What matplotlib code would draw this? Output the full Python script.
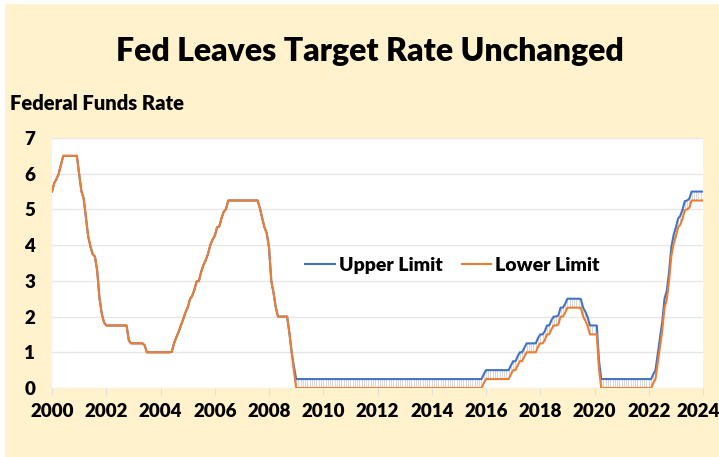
import pandas as pd
import matplotlib
matplotlib.use('Agg')
import matplotlib.pyplot as plt
import matplotlib.transforms as mtransforms
from matplotlib.patches import Rectangle

# monthly average of the fed funds target (Jan 2000 .. Jan 2024)
months = pd.date_range('2000-01-01', '2024-01-01', freq='MS')

lower = [
    5.50, 5.74, 5.85, 6.00, 6.26, 6.50, 6.50, 6.50, 6.50, 6.50, 6.50, 6.50,  # 2000
    5.98, 5.50, 5.32, 4.80, 4.26, 3.97, 3.75, 3.68, 3.28, 2.52, 2.08, 1.84,  # 2001
    1.75, 1.75, 1.75, 1.75, 1.75, 1.75, 1.75, 1.75, 1.75, 1.75, 1.33, 1.25,  # 2002
    1.25, 1.25, 1.25, 1.25, 1.25, 1.20, 1.00, 1.00, 1.00, 1.00, 1.00, 1.00,  # 2003
    1.00, 1.00, 1.00, 1.00, 1.00, 1.01, 1.25, 1.42, 1.57, 1.75, 1.92, 2.11,  # 2004
    2.25, 2.49, 2.57, 2.75, 2.98, 3.00, 3.25, 3.44, 3.58, 3.75, 4.00, 4.15,  # 2005
    4.26, 4.50, 4.52, 4.75, 4.93, 5.01, 5.25, 5.25, 5.25, 5.25, 5.25, 5.25,  # 2006
    5.25, 5.25, 5.25, 5.25, 5.25, 5.25, 5.25, 5.25, 5.03, 4.76, 4.50, 4.34,  # 2007
    3.94, 3.00, 2.68, 2.26, 2.00, 2.00, 2.00, 2.00, 2.00, 1.55, 1.00, 0.48,  # 2008
    0.00, 0.00, 0.00, 0.00, 0.00, 0.00, 0.00, 0.00, 0.00, 0.00, 0.00, 0.00,  # 2009
    0.00, 0.00, 0.00, 0.00, 0.00, 0.00, 0.00, 0.00, 0.00, 0.00, 0.00, 0.00,  # 2010
    0.00, 0.00, 0.00, 0.00, 0.00, 0.00, 0.00, 0.00, 0.00, 0.00, 0.00, 0.00,  # 2011
    0.00, 0.00, 0.00, 0.00, 0.00, 0.00, 0.00, 0.00, 0.00, 0.00, 0.00, 0.00,  # 2012
    0.00, 0.00, 0.00, 0.00, 0.00, 0.00, 0.00, 0.00, 0.00, 0.00, 0.00, 0.00,  # 2013
    0.00, 0.00, 0.00, 0.00, 0.00, 0.00, 0.00, 0.00, 0.00, 0.00, 0.00, 0.00,  # 2014
    0.00, 0.00, 0.00, 0.00, 0.00, 0.00, 0.00, 0.00, 0.00, 0.00, 0.00, 0.13,  # 2015
    0.25, 0.25, 0.25, 0.25, 0.25, 0.25, 0.25, 0.25, 0.25, 0.25, 0.25, 0.38,  # 2016
    0.50, 0.50, 0.63, 0.75, 0.75, 0.88, 1.00, 1.00, 1.00, 1.00, 1.00, 1.15,  # 2017
    1.25, 1.25, 1.33, 1.50, 1.50, 1.65, 1.75, 1.75, 1.78, 2.00, 2.00, 2.10,  # 2018
    2.25, 2.25, 2.25, 2.25, 2.25, 2.25, 2.24, 2.00, 1.88, 1.73, 1.50, 1.50,  # 2019
    1.50, 1.50, 0.53, 0.00, 0.00, 0.00, 0.00, 0.00, 0.00, 0.00, 0.00, 0.00,  # 2020
    0.00, 0.00, 0.00, 0.00, 0.00, 0.00, 0.00, 0.00, 0.00, 0.00, 0.00, 0.00,  # 2021
    0.00, 0.00, 0.13, 0.25, 0.69, 1.13, 1.60, 2.25, 2.48, 3.00, 3.70, 4.03,  # 2022
    4.25, 4.50, 4.57, 4.75, 4.98, 5.00, 5.05, 5.25, 5.25, 5.25, 5.25, 5.25,  # 2023
    5.25,                                                                    # 2024
]

upper = [
    5.50, 5.74, 5.85, 6.00, 6.26, 6.50, 6.50, 6.50, 6.50, 6.50, 6.50, 6.50,  # 2000
    5.98, 5.50, 5.32, 4.80, 4.26, 3.97, 3.75, 3.68, 3.28, 2.52, 2.08, 1.84,  # 2001
    1.75, 1.75, 1.75, 1.75, 1.75, 1.75, 1.75, 1.75, 1.75, 1.75, 1.33, 1.25,  # 2002
    1.25, 1.25, 1.25, 1.25, 1.25, 1.20, 1.00, 1.00, 1.00, 1.00, 1.00, 1.00,  # 2003
    1.00, 1.00, 1.00, 1.00, 1.00, 1.01, 1.25, 1.42, 1.57, 1.75, 1.92, 2.11,  # 2004
    2.25, 2.49, 2.57, 2.75, 2.98, 3.00, 3.25, 3.44, 3.58, 3.75, 4.00, 4.15,  # 2005
    4.26, 4.50, 4.52, 4.75, 4.93, 5.01, 5.25, 5.25, 5.25, 5.25, 5.25, 5.25,  # 2006
    5.25, 5.25, 5.25, 5.25, 5.25, 5.25, 5.25, 5.25, 5.03, 4.76, 4.50, 4.34,  # 2007
    3.94, 3.00, 2.68, 2.26, 2.00, 2.00, 2.00, 2.00, 2.00, 1.55, 1.00, 0.61,  # 2008
    0.25, 0.25, 0.25, 0.25, 0.25, 0.25, 0.25, 0.25, 0.25, 0.25, 0.25, 0.25,  # 2009
    0.25, 0.25, 0.25, 0.25, 0.25, 0.25, 0.25, 0.25, 0.25, 0.25, 0.25, 0.25,  # 2010
    0.25, 0.25, 0.25, 0.25, 0.25, 0.25, 0.25, 0.25, 0.25, 0.25, 0.25, 0.25,  # 2011
    0.25, 0.25, 0.25, 0.25, 0.25, 0.25, 0.25, 0.25, 0.25, 0.25, 0.25, 0.25,  # 2012
    0.25, 0.25, 0.25, 0.25, 0.25, 0.25, 0.25, 0.25, 0.25, 0.25, 0.25, 0.25,  # 2013
    0.25, 0.25, 0.25, 0.25, 0.25, 0.25, 0.25, 0.25, 0.25, 0.25, 0.25, 0.25,  # 2014
    0.25, 0.25, 0.25, 0.25, 0.25, 0.25, 0.25, 0.25, 0.25, 0.25, 0.25, 0.38,  # 2015
    0.50, 0.50, 0.50, 0.50, 0.50, 0.50, 0.50, 0.50, 0.50, 0.50, 0.50, 0.63,  # 2016
    0.75, 0.75, 0.88, 1.00, 1.00, 1.13, 1.25, 1.25, 1.25, 1.25, 1.25, 1.40,  # 2017
    1.50, 1.50, 1.58, 1.75, 1.75, 1.90, 2.00, 2.00, 2.03, 2.25, 2.25, 2.35,  # 2018
    2.50, 2.50, 2.50, 2.50, 2.50, 2.50, 2.49, 2.25, 2.13, 1.98, 1.75, 1.75,  # 2019
    1.75, 1.75, 0.78, 0.25, 0.25, 0.25, 0.25, 0.25, 0.25, 0.25, 0.25, 0.25,  # 2020
    0.25, 0.25, 0.25, 0.25, 0.25, 0.25, 0.25, 0.25, 0.25, 0.25, 0.25, 0.25,  # 2021
    0.25, 0.25, 0.38, 0.50, 0.94, 1.38, 1.85, 2.50, 2.73, 3.25, 3.95, 4.28,  # 2022
    4.50, 4.75, 4.82, 5.00, 5.23, 5.25, 5.30, 5.50, 5.50, 5.50, 5.50, 5.50,  # 2023
    5.50,                                                                    # 2024
]

year_ticks = list(range(2000, 2025, 2))
rate_ticks = [0, 1, 2, 3, 4, 5, 6, 7]

plt.rcParams['font.family'] = ['Lato', 'DejaVu Sans']
plt.rcParams['font.weight'] = 'bold'

cream = '#FFF2CC'
fig = plt.figure(figsize=(7.19, 4.57), dpi=100, facecolor='white')
# cream panel behind everything
fig.patches.append(Rectangle((5 / 719, 0), 1, 1 - 4 / 457, transform=fig.transFigure,
                             facecolor=cream, edgecolor='none', zorder=-10))

ax = fig.add_axes([52 / 719, 69 / 457, 651 / 719, 250 / 457])
ax.set_facecolor('white')

# high-low lines between the two limits, one per month
ax.vlines(months, lower, upper, color='#C8C8C8', linewidth=0.5, zorder=2)
ax.plot(months, upper, color='#4472C4', linewidth=1.5, label='Upper Limit', zorder=3)
ax.plot(months, lower, color='#ED7D31', linewidth=1.5, label='Lower Limit', zorder=4)

ax.set_xlim(pd.Timestamp('2000-01-01'), pd.Timestamp('2024-01-01'))
ax.set_ylim(0, 7)
ax.set_xticks([pd.Timestamp(f'{y}-01-01') for y in year_ticks])
ax.set_xticklabels([str(y) for y in year_ticks])
ax.set_yticks(rate_ticks)
ax.grid(axis='y', color='#E6E6E6', linewidth=1)
ax.set_axisbelow(True)
for s in ax.spines.values():
    s.set_visible(False)
ax.tick_params(axis='x', length=5, color='#E0E0E0', pad=6, labelsize=13.5)
ax.tick_params(axis='y', length=0, pad=12, labelsize=13.5)
for lab in ax.get_xticklabels() + ax.get_yticklabels():
    lab.set_fontweight('heavy')

# last year label nudged left so it stays inside the picture
last = ax.get_xticklabels()[-1]
last.set_transform(last.get_transform() + mtransforms.ScaledTranslation(-3.5 / 72, 0, fig.dpi_scale_trans))

leg = ax.legend(loc='center', bbox_to_anchor=(0.615, 0.49), ncol=2, frameon=False,
                fontsize=14, handlelength=1.5, handletextpad=0.2, columnspacing=1.0)
for t in leg.get_texts():
    t.set_fontweight('heavy')

fig.text(370 / 719, 1 - 52 / 457, 'Fed Leaves Target Rate Unchanged', ha='center', va='center',
         fontsize=23, fontweight='heavy')
fig.text(10 / 719, 1 - 104 / 457, 'Federal Funds Rate', ha='left', va='center',
         fontsize=14.5, fontweight='heavy')

fig.savefig('out.png', dpi=100, facecolor=fig.get_facecolor())
